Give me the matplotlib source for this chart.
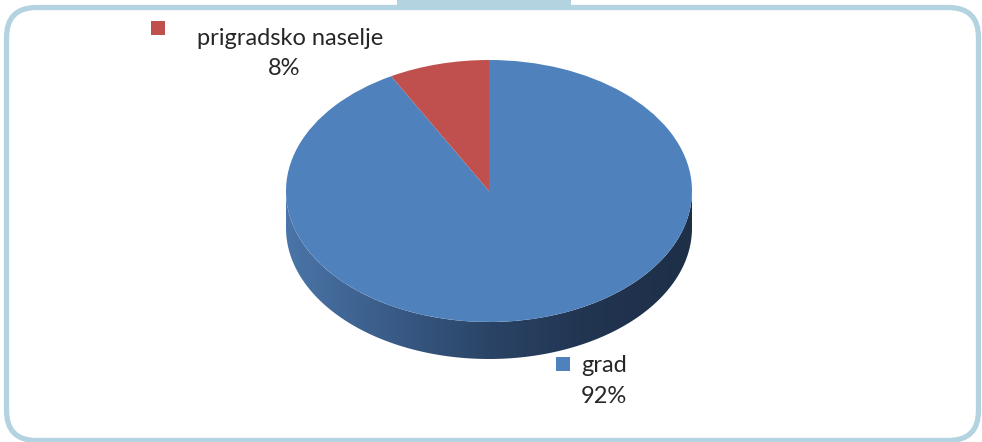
import numpy as np
import matplotlib
matplotlib.use("Agg")
import matplotlib.pyplot as plt
from matplotlib.patches import FancyBboxPatch, Rectangle, Polygon

# ---- data ----
categories = ["grad", "prigradsko naselje"]
values = [92, 8]
pct_labels = ["92%", "8%"]
colors = ["#4f81bd", "#c0504d"]

W, H = 982, 442
fig = plt.figure(figsize=(W / 100, H / 100), dpi=100)
plt.rcParams['font.family'] = ['Lato', 'DejaVu Sans']

# background / frame axes in pixel coordinates
bg = fig.add_axes([0, 0, 1, 1])
bg.set_xlim(0, W)
bg.set_ylim(H, 0)
bg.axis("off")
frame_col = "#b3d3e1"
bg.add_patch(FancyBboxPatch((6.5, 7.5), 972, 433, boxstyle="round,pad=0,rounding_size=30",
                            fill=False, edgecolor=frame_col, linewidth=3.8))
bg.add_patch(Rectangle((397, 0), 174, 10, facecolor=frame_col, edgecolor="none"))

# ---- 3D pie ----
cx, cy, rx, ry, depth = 489, 191, 203, 131, 37
ax = fig.add_axes([(cx - rx) / W, (H - (cy + ry + depth)) / H, 2 * rx / W, (2 * ry + depth) / H])
d = depth / ry
wedges, _ = ax.pie(values, colors=colors, startangle=90, counterclock=False, radius=1,
                   wedgeprops=dict(linewidth=0))
for w in wedges:
    w.set_zorder(3)
ax.set_aspect("auto")
ax.set_xlim(-1, 1)
ax.set_ylim(-1 - d, 1)
ax.axis("off")

# side wall gradients (front half), one clipped gradient per slice
stops_x = [-1.0, -0.5, 0.0, 0.5, 1.0]
blue_side = np.array([[0x4b, 0x75, 0xa8], [0x3a, 0x5c, 0x88], [0x2a, 0x44, 0x66],
                      [0x21, 0x34, 0x50], [0x1e, 0x2f, 0x48]]) / 255.0
red_side = np.array([[0xa8, 0x46, 0x43], [0x90, 0x3b, 0x39], [0x78, 0x30, 0x2e],
                     [0x62, 0x27, 0x25], [0x55, 0x22, 0x20]]) / 255.0
palettes = [blue_side, red_side]
fracs = np.array(values) / np.sum(values)
bounds = 90 - 360 * np.concatenate([[0], np.cumsum(fracs)])  # clockwise from top (deg)
xs = np.linspace(-1, 1, 600)
for k in range(len(values)):
    hi, lo = bounds[k], bounds[k + 1]
    # visible front arc is 180..360 deg; test shifts
    for shift in (-360, 0, 360):
        a0 = max(lo + shift, 180)
        a1 = min(hi + shift, 360)
        if a1 <= a0:
            continue
        tt = np.radians(np.linspace(a0, a1, 200))
        top = np.column_stack([np.cos(tt), np.sin(tt)])
        bot = np.column_stack([np.cos(tt[::-1]), np.sin(tt[::-1]) - d])
        poly = Polygon(np.vstack([top, bot]), closed=True, facecolor="none",
                       edgecolor="none", zorder=2)
        ax.add_patch(poly)
        pal = palettes[k]
        grad = np.stack([np.interp(xs, stops_x, pal[:, j]) for j in range(3)], axis=-1)
        im = ax.imshow(grad[np.newaxis, :, :], extent=(-1, 1, -1 - d, 0.1), aspect="auto",
                       zorder=2, interpolation="bilinear")
        im.set_clip_path(poly)
ax.set_xlim(-1, 1)
ax.set_ylim(-1 - d, 1)

# ---- labels ----
txt_col = "#262626"
fs = 17
bg.add_patch(Rectangle((151, 21), 14, 14, facecolor=colors[1], edgecolor="none"))
bg.text(290, 45, categories[1], fontsize=fs, color=txt_col, ha="center", va="baseline")
bg.text(284, 75, pct_labels[1], fontsize=fs, color=txt_col, ha="center", va="baseline")
bg.add_patch(Rectangle((556, 357), 14, 14, facecolor=colors[0], edgecolor="none"))
bg.text(604, 372, categories[0], fontsize=fs, color=txt_col, ha="center", va="baseline")
bg.text(604, 403, pct_labels[0], fontsize=fs, color=txt_col, ha="center", va="baseline")

fig.savefig("out.png", dpi=100)
